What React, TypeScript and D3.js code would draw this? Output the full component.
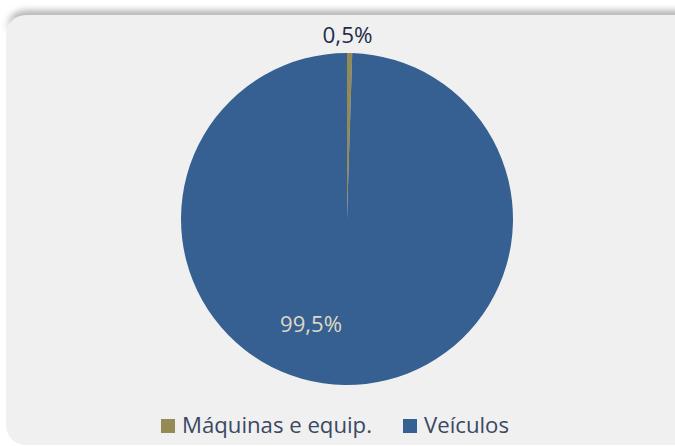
import React from "react";
import * as d3 from "d3";

const categories = ["Máquinas e equip.", "Veículos"];
const values = [0.5, 99.5];
const labels = ["0,5%", "99,5%"];
const colors = ["#948a54", "#376092"];

const W = 675;
const H = 446;

export default function App() {
  const cx = 347;
  const cy = 219;
  const r = 166;
  const pie = d3.pie<number>().sort(null).value((d) => d)(values);
  const arc = d3.arc<d3.PieArcDatum<number>>().innerRadius(0).outerRadius(r);
  const font = "'Open Sans', Lato, sans-serif";
  return (
    <div style={{ position: "fixed", left: 0, top: 0 }}>
      <svg width={W} height={H} style={{ display: "block", background: "#fff" }}>
        <defs>
          <filter id="sh" x="-10%" y="-10%" width="120%" height="120%">
            <feGaussianBlur stdDeviation="3" />
          </filter>
          <linearGradient id="fade" x1="0" y1="0" x2="0" y2="1" gradientUnits="objectBoundingBox">
            <stop offset="0" stopColor="#fff" />
            <stop offset="0.45" stopColor="#fff" />
            <stop offset="1" stopColor="#000" />
          </linearGradient>
          <mask id="topMask" maskUnits="userSpaceOnUse" x={0} y={0} width={W} height={40}>
            <rect x={0} y={0} width={W} height={34} fill="url(#fade)" />
          </mask>
        </defs>
        <g mask="url(#topMask)">
          <rect x={6} y={10} width={700} height={430} rx={20} fill="#b8b8b8" filter="url(#sh)" />
        </g>
        <rect x={6} y={15} width={700} height={430} rx={20} fill="#f0f0f0" />
        <g transform={`translate(${cx},${cy})`}>
          {pie.map((p, i) => (
            <path key={i} d={arc(p) || ""} fill={colors[i]} />
          ))}
        </g>
        <text x={322.5} y={42.5} fontFamily={font} fontSize={22} fill="#1f2d4a" textLength={50} lengthAdjust="spacingAndGlyphs">
          {labels[0]}
        </text>
        <text x={280} y={332} fontFamily={font} fontSize={22} fill="#ddd9c3" textLength={62} lengthAdjust="spacingAndGlyphs">
          {labels[1]}
        </text>
        <g fontFamily={font} fontSize={21} fill="#3a4862">
          <rect x={161} y={419} width={14} height={14} fill={colors[0]} />
          <text x={182} y={433} textLength={190} lengthAdjust="spacingAndGlyphs">{categories[0]}</text>
          <rect x={403} y={419} width={14} height={14} fill={colors[1]} />
          <text x={424} y={433} textLength={85} lengthAdjust="spacingAndGlyphs">{categories[1]}</text>
        </g>
      </svg>
    </div>
  );
}
